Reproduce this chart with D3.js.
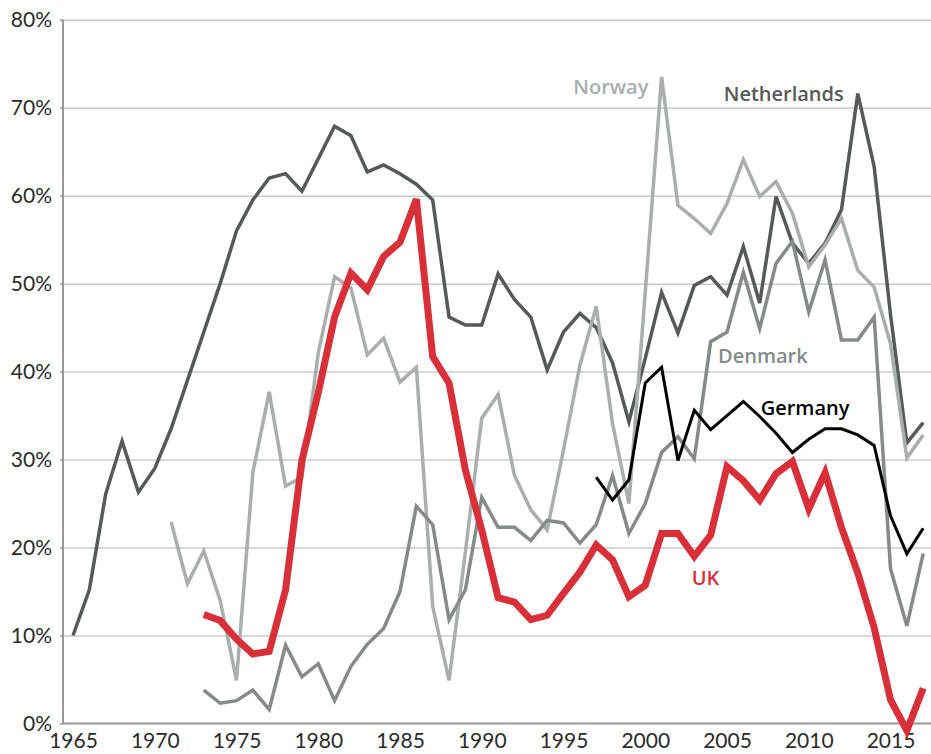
<!DOCTYPE html>
<html>
<head>
<meta charset="utf-8">
<script src="https://cdn.jsdelivr.net/npm/d3@7"></script>
<style>
  body { margin: 0; background: #fff; }
  svg { display: block; }
  .tick text { font-family: Lato, "Open Sans", sans-serif; font-size: 21px; font-weight: 400; fill: #2b2b2b; }
  .label { font-family: "Open Sans", sans-serif; font-size: 20px; font-weight: 600; }
</style>
</head>
<body>
<svg width="931" height="754"></svg>
<script>
// tick labels
var yTicks = [0, 10, 20, 30, 40, 50, 60, 70, 80];
var xTicks = [1965, 1970, 1975, 1980, 1985, 1990, 1995, 2000, 2005, 2010, 2015];

// series: first year + yearly values (%)
var netherlandsStart = 1965;
var netherlands = [10.0, 15.2, 26.1, 32.1, 26.3, 29.0, 33.5, 39.0, 44.5, 50.0,
	56.0, 59.5, 62.0, 62.5, 60.5, 64.2, 67.9, 66.8, 62.7, 63.5,
	62.5, 61.3, 59.5, 46.2, 45.3, 45.3, 51.1, 48.2, 46.2, 40.2,
	44.5, 46.6, 45.0, 41.0, 34.3, 41.5, 49.0, 44.4, 49.8, 50.8,
	48.7, 54.2, 47.8, 59.9, 54.6, 52.3, 54.6, 58.4, 71.6, 63.3,
	46.5, 31.9, 34.2];

var norwayStart = 1971;
var norway = [22.9, 15.9, 19.6, 14.0, 4.9, 28.5, 37.7, 27.0, 28.0, 42.1,
	50.8, 49.5, 41.9, 43.8, 38.8, 40.5, 13.3, 4.9, 19.5, 34.7,
	37.4, 28.2, 24.3, 22.0, 31.1, 40.7, 47.4, 34.1, 25.0, 49.0,
	73.5, 58.9, 57.4, 55.7, 59.1, 64.1, 59.9, 61.6, 58.0, 51.9,
	54.4, 57.4, 51.5, 49.6, 43.2, 30.2, 32.8];

var denmarkStart = 1973;
var denmark = [3.8, 2.3, 2.6, 3.8, 1.6, 8.9, 5.3, 6.8, 2.6, 6.5,
	9.0, 10.8, 15.0, 24.7, 22.6, 11.8, 15.2, 25.7, 22.3, 22.3,
	20.8, 23.1, 22.8, 20.5, 22.6, 28.2, 21.6, 25.0, 30.8, 32.6,
	30.1, 43.4, 44.5, 51.3, 44.9, 52.3, 54.8, 46.8, 52.7, 43.6,
	43.6, 46.2, 17.6, 11.1, 19.3];

var germanyStart = 1997;
var germany = [28.0, 25.4, 27.7, 38.7, 40.5, 29.9, 35.6, 33.4, 35.0, 36.6,
	34.9, 33.0, 30.8, 32.3, 33.5, 33.5, 32.8, 31.6, 23.6, 19.3, 22.2];

var ukStart = 1973;
var uk = [12.4, 11.7, 9.6, 7.9, 8.2, 15.2, 29.9, 37.6, 46.2, 51.2,
	49.3, 53.1, 54.7, 59.6, 41.7, 38.7, 28.8, 22.0, 14.3, 13.8,
	11.8, 12.3, 14.8, 17.2, 20.3, 18.6, 14.4, 15.7, 21.6, 21.6,
	19.0, 21.4, 29.2, 27.6, 25.4, 28.4, 29.8, 24.4, 28.5, 22.3,
	17.1, 10.9, 2.7, -0.8, 4.0];

// series name, colour, line width, label anchor [year, value]
var seriesNames = ["Netherlands", "Norway", "Denmark", "Germany", "UK"];
var seriesColors = ["#545a58", "#a9aeae", "#858b8a", "#000000", "#d92f39"];
var seriesWidths = [3.5, 3.5, 3.5, 3, 7];
var labelAt = [[2004.8, 70.8], [1995.6, 71.6], [2004.45, 41.0], [2007.06, 35.1], [2002.84, 15.7]];

var seriesData = [
	[netherlandsStart, netherlands],
	[norwayStart, norway],
	[denmarkStart, denmark],
	[germanyStart, germany],
	[ukStart, uk]
];

var svg = d3.select("svg"),
	axisX = 63,
	rightEdge = 931;

var x = d3.scaleLinear().domain([1965, 2017]).range([73, 923.2]);
var y = d3.scaleLinear().domain([0, 80]).range([723.5, 19.7]);

// gridlines
svg.append("g")
	.attr("transform", "translate(" + axisX + ",0)")
	.call(d3.axisLeft(y).tickValues(yTicks.slice(1)).tickSize(-(rightEdge - axisX)).tickFormat(""))
	.call(function(g) { g.select(".domain").remove(); })
	.selectAll("line")
	.attr("stroke", "#c8cccc")
	.attr("stroke-width", 1.5);

// y axis
var yAxis = svg.append("g")
	.attr("transform", "translate(" + axisX + ",0)")
	.call(d3.axisLeft(y).tickValues(yTicks).tickSize(3).tickPadding(8).tickFormat(function(d) { return d + "%"; }));
yAxis.select(".domain").attr("stroke", "#999").attr("stroke-width", 2).attr("d", "M0," + y(80) + "V" + y(0));
yAxis.selectAll(".tick line").attr("stroke", "#999").attr("stroke-width", 1.5);
yAxis.selectAll("text").attr("fill", "#2b2b2b");

// baseline
svg.append("line")
	.attr("x1", axisX).attr("x2", rightEdge)
	.attr("y1", y(0)).attr("y2", y(0))
	.attr("stroke", "#9a9a9a")
	.attr("stroke-width", 2);

// x axis labels
var xAxis = svg.append("g")
	.attr("transform", "translate(0," + y(0) + ")")
	.call(d3.axisBottom(x).tickValues(xTicks).tickSize(0).tickFormat(d3.format("d")));
xAxis.select(".domain").remove();
xAxis.selectAll("text").attr("y", 24.5).attr("dy", null).attr("fill", "#2b2b2b");

// lines
var line = d3.line()
	.x(function(d) { return x(d[0]); })
	.y(function(d) { return y(d[1]); });

seriesData.forEach(function(s, i) {
	var pts = s[1].map(function(v, j) { return [s[0] + j, v]; });
	svg.append("path")
		.datum(pts)
		.attr("fill", "none")
		.attr("stroke", seriesColors[i])
		.attr("stroke-width", seriesWidths[i])
		.attr("d", line);
});

// labels
seriesNames.forEach(function(name, i) {
	svg.append("text")
		.attr("class", "label")
		.attr("x", x(labelAt[i][0]))
		.attr("y", y(labelAt[i][1]))
		.attr("fill", seriesColors[i])
		.text(name);
});
</script>
</body>
</html>
